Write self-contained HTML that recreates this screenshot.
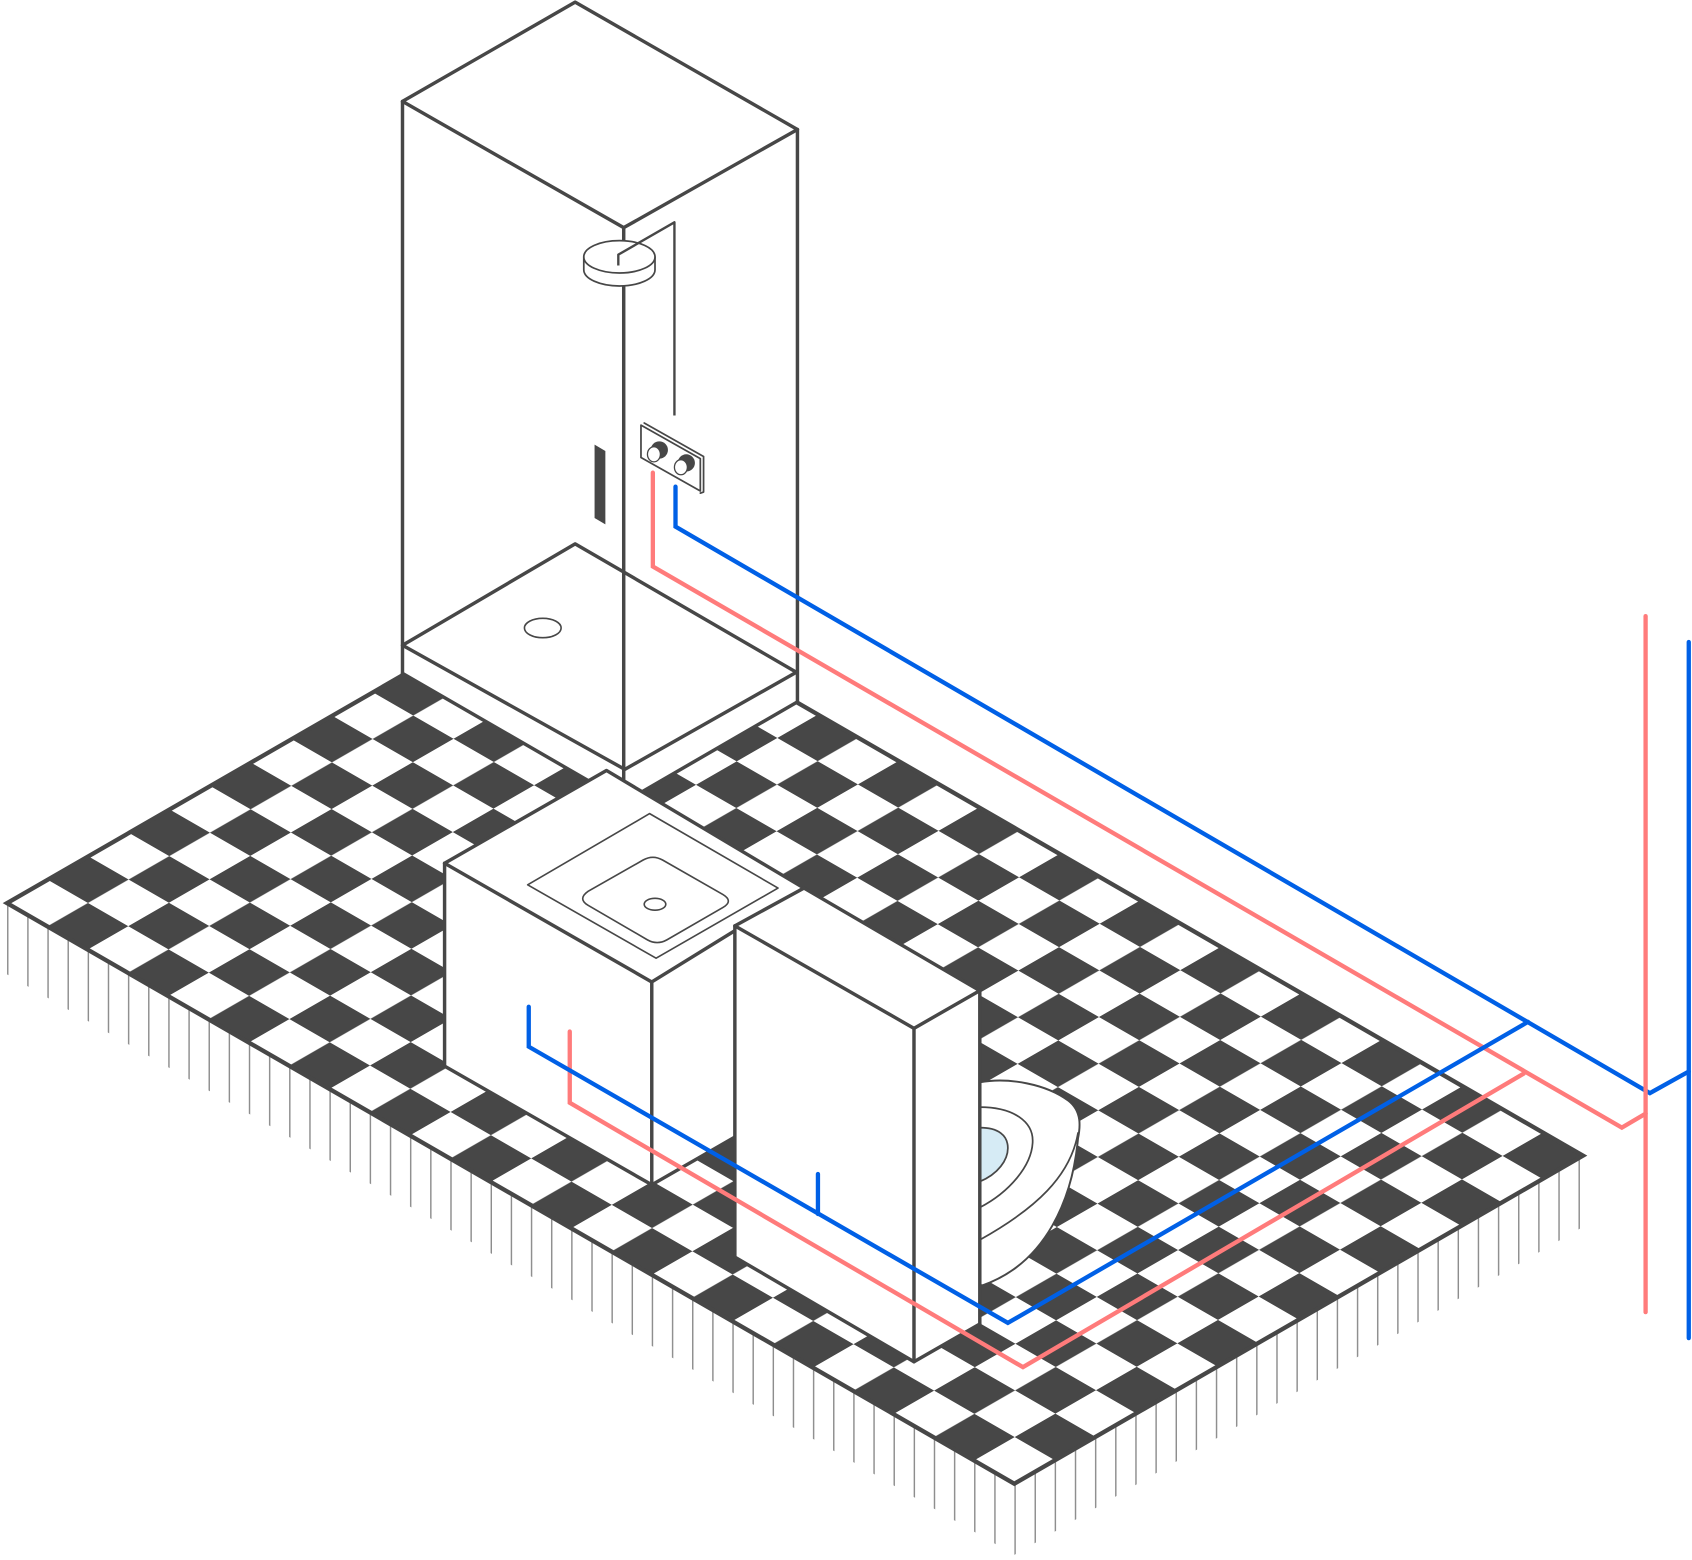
<!DOCTYPE html>
<html><head><meta charset="utf-8"><style>html,body{margin:0;padding:0;background:#fff}svg{display:block}</style></head>
<body>
<svg width="1692" height="1560" viewBox="0 0 1568 1445.7" preserveAspectRatio="none" xmlns="http://www.w3.org/2000/svg">
<defs>
<pattern id="chk" patternUnits="userSpaceOnUse" width="2" height="2" patternTransform="matrix(37.34 21.52 37.68 -21.71 6.5 837)">
<rect x="0" y="0" width="2" height="2" fill="#fff"/>
<rect x="1" y="0" width="1" height="1" fill="#474747"/>
<rect x="0" y="1" width="1" height="1" fill="#474747"/>
</pattern>
<pattern id="hatch" patternUnits="userSpaceOnUse" x="6.5" y="0" width="18.67" height="200">
<line x1="0.7" y1="0" x2="0.7" y2="200" stroke="#8a8a8a" stroke-width="1.3"/>
</pattern>
</defs>
<rect width="1568" height="1446" fill="#fff"/>
<polygon points="6.5,839 940,1377 1467,1073 1467,1137 940,1441 6.5,903" fill="url(#hatch)"/>
<polygon points="6.5,837 534,533 1467,1071 940,1375" fill="url(#chk)" stroke="#474747" stroke-width="4" stroke-linejoin="miter"/>

<g fill="none" stroke="#474747" stroke-width="3.2" stroke-linejoin="round" stroke-linecap="round">
<polygon points="533,2 739,120 739,651 579,743 373,624 373,94" fill="#fff" stroke="none"/>
<polygon points="373,94 533,2 739,120 578,211"/>
<line x1="373" y1="94" x2="373" y2="624"/>
<line x1="578" y1="211" x2="578" y2="741"/>
<line x1="739" y1="120" x2="739" y2="651"/>
<polygon points="373,598 533,504 738,623 579,713"/>
<polyline points="373,624 579,743 738,651"/>
<ellipse cx="503" cy="582" rx="17" ry="9" stroke-width="1.5"/>
<path d="M541,238 v12 a33,15 0 0 0 66,0 v-12" fill="#fff" stroke-width="1.6"/>
<ellipse cx="574" cy="238" rx="33" ry="15" fill="#fff" stroke-width="1.6"/>
<polyline points="573,246 573,236 625,206 625,385" stroke-width="2.2" stroke-linecap="butt"/>
<polygon points="594,394 649,425 649,455 594,424" fill="#fff" stroke-width="1.6"/>
<polyline points="597,392 652,423 652,456 649,457" stroke-width="1.6"/>
<circle cx="611" cy="417" r="8" fill="#474747" stroke="none"/>
<ellipse cx="606" cy="421" rx="6" ry="7" fill="#fff" stroke-width="1.2"/>
<circle cx="636" cy="429" r="8" fill="#474747" stroke="none"/>
<ellipse cx="631" cy="433" rx="6" ry="7" fill="#fff" stroke-width="1.2"/>
<polygon points="551,412 561,418 561,486 551,480" fill="#474747" stroke="none"/>

<polygon points="412,800 562,714 745,823 745,1017 604,1098 412,988" fill="#fff" stroke="none"/>
<polygon points="412,800 562,714 745,823 604,910"/>
<line x1="412" y1="800" x2="412" y2="988"/>
<line x1="604" y1="910" x2="604" y2="1098"/>
<polyline points="412,988 604,1098 745,1017"/>
<polygon points="489,820 602,754 721,823 608,888" stroke-width="1.5"/>
<path d="M545,826 L596,797 Q605,792 614,797 L670,829 Q680,835 670,841 L618,871 Q609,876 600,871 L545,839 Q535,833 545,826 Z" stroke-width="1.5"/>
<ellipse cx="607" cy="838" rx="10" ry="5.5" stroke-width="1.5"/>

<path d="M908,1003 C935,998 970,1005 990,1020 C1003,1030 1001,1045 999,1055 C994,1110 970,1170 911,1191 L908,1191 Z" fill="#fff" stroke-width="1.8"/>
<path d="M908,1149 C960,1120 992,1090 999,1050" stroke-width="1.6"/>
<path d="M908,1026 C940,1026 957,1040 957,1057 C957,1080 935,1105 908,1119" stroke-width="1.6"/>
<path d="M908,1045 C925,1045 934,1052 934,1064 C934,1075 925,1088 908,1095 Z" fill="#d6ebf5" stroke-width="1.6"/>

<polygon points="681,858 745,823 908,918 908,1227 847,1262 681,1165" fill="#fff" stroke="none"/>
<polygon points="681,858 745,823 908,918 847,953"/>
<line x1="681" y1="858" x2="681" y2="1165"/>
<line x1="847" y1="953" x2="847" y2="1262"/>
<line x1="908" y1="918" x2="908" y2="1227"/>
<polyline points="681,1165 847,1262 908,1227"/>
</g>

<g fill="none" stroke-width="4" stroke-linejoin="miter" stroke-linecap="round">
<polyline points="605,438 605,525 1503,1045 1525,1032" stroke="#ff7b7b"/>
<polyline points="626,451 626,488 1529,1013 1565,993" stroke="#0060e6"/>
<line x1="1525" y1="571" x2="1525" y2="1216" stroke="#ff7b7b"/>
<line x1="1565" y1="595" x2="1565" y2="1240" stroke="#0060e6"/>
<polyline points="528,956 528,1022 948,1267 1412,995" stroke="#ff7b7b"/>
<polyline points="490,933 490,970 934,1226 1416,947" stroke="#0060e6"/>
<line x1="758" y1="1088" x2="758" y2="1125" stroke="#0060e6"/>
</g>
</svg>
</body></html>
